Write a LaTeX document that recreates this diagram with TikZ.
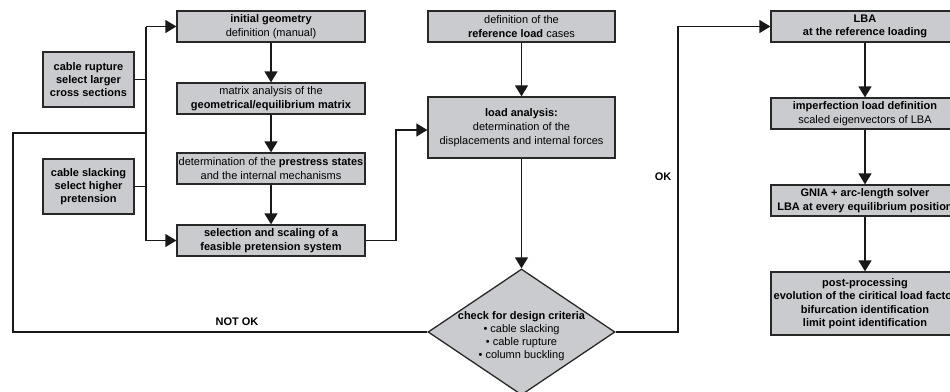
\documentclass[tikz,border=0pt]{standalone}
\usepackage{fontspec}
\setmainfont{Liberation Sans}
\usetikzlibrary{arrows.meta,shapes.geometric}
\definecolor{boxfill}{RGB}{202,203,206}
\definecolor{boxline}{RGB}{40,40,40}
\tikzset{
  stepbox/.style={draw=boxline, fill=boxfill, line width=1.3pt, inner sep=0pt,
    align=center, font=\fontsize{11}{13.5}\selectfont},
  wide/.style={stepbox, minimum width=188pt, minimum height=31pt},
  conn/.style={draw=black!90, line width=1.3pt},
  arr/.style={conn, -{Triangle[width=13pt,length=11pt]}},
  lbl/.style={font=\fontsize{11}{13.5}\selectfont\bfseries, inner sep=0pt}
}
\begin{document}
\begin{tikzpicture}[x=1pt,y=-1pt]
\clip (0,0) rectangle (950,391);
\fill[white] (0,0) rectangle (950,391);
% left column
\node[wide] (ig) at (271,26.5) {\textbf{initial geometry}\\definition (manual)};
\node[wide] (mx) at (271,98.5) {matrix analysis of the\\\textbf{geometrical/equilibrium matrix}};
\node[wide] (ps) at (271,168.5) {determination of the \textbf{prestress states}\\and the internal mechanisms};
\node[wide] (sel) at (271,240.5) {\textbf{selection and scaling of a}\\\textbf{feasible pretension system}};
\node[stepbox, minimum width=91pt, minimum height=55pt, font=\fontsize{11}{13}\selectfont\bfseries] (rup) at (88.5,79.5) {cable rupture\\select larger\\cross sections};
\node[stepbox, minimum width=91pt, minimum height=55pt, font=\fontsize{11}{13}\selectfont\bfseries] (slk) at (88.5,186.5) {cable slacking\\select higher\\pretension};
% middle column
\node[wide, minimum width=187pt] (def) at (521.5,26.5) {definition of the\\\textbf{reference load} cases};
\node[wide, minimum width=187pt, minimum height=61pt, font=\fontsize{11}{14}\selectfont] (la) at (521.5,127.5) {\textbf{load analysis:}\\determination of the\\displacements and internal forces};
\node[diamond, draw=boxline, fill=boxfill, line width=1.3pt, inner sep=0pt,
  minimum width=187pt, minimum height=126pt] (dia) at (521.5,332) {};
\node[align=center, inner sep=0pt, font=\fontsize{11}{12.8}\selectfont] (dtx) at (521.5,336) {\textbf{check for design criteria}\\\textbullet\ cable slacking\\\textbullet\ cable rupture\\\textbullet\ column buckling};
% right column
\node[wide, font=\fontsize{11}{13.5}\selectfont\bfseries] (lba) at (865,26.5) {LBA\\at the reference loading};
\node[wide] (imp) at (865,113.5) {\textbf{imperfection load definition}\\scaled eigenvectors of LBA};
\node[wide, font=\fontsize{11}{13.5}\selectfont\bfseries] (gn) at (865,200.5) {GNIA + arc-length solver\\LBA at every equilibrium position};
\node[wide, minimum height=63pt, font=\fontsize{11}{13.5}\selectfont\bfseries] (pp) at (865,303.5) {post-processing\\evolution of the ciritical load factor\\bifurcation identification\\limit point identification};
% labels
\node[lbl] (nok) at (237,322) {NOT OK};
\node[lbl] (ok) at (663,177) {OK};
% coordinates
\coordinate (vt) at (146,26.5);
\coordinate (vb) at (146,240.5);
\coordinate (fl) at (13,133);
\coordinate (sx) at (396,130);
\coordinate (ox) at (678,26.5);
% connectors
\draw[arr] (ig) -- (mx);
\draw[arr] (mx) -- (ps);
\draw[arr] (ps) -- (sel);
\draw[arr] (def) -- (la);
\draw[arr] (la) -- (dia.north);
\draw[arr] (lba) -- (imp);
\draw[arr] (imp) -- (gn);
\draw[arr] (gn) -- (pp);
\draw[conn] (vb) -- (vt);
\draw[arr] (vt) -- (ig.west);
\draw[arr] (vb) -- (sel.west);
\draw[conn] (rup.east) -- (rup.east -| vt);
\draw[conn] (slk.east) -- (slk.east -| vt);
\draw[conn] (dia.west) -| (fl) -- (fl -| vt);
\draw[arr] (sel.east) -| (sx) -- (sx -| la.west);
\draw[arr] (dia.east) -| (ox) -- (lba.west);
\end{tikzpicture}
\end{document}
